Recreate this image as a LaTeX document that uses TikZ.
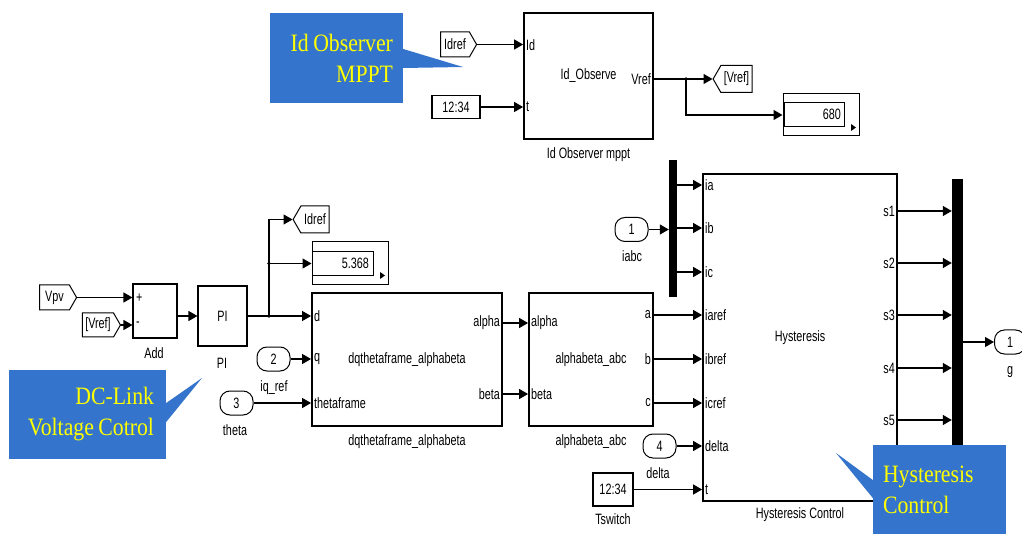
\documentclass[tikz,border=0pt]{standalone}
\usepackage{fontspec}
\usetikzlibrary{shapes.symbols,arrows.meta,calc}
\newfontfamily\simfont[FakeStretch=0.72]{Liberation Sans}
\newfontfamily\calfont[FakeStretch=0.87]{Liberation Serif}
\newcommand\mycalsel{\calfont\fontsize{25}{31}\selectfont}
\newcommand\csp{\hspace{4.5pt}}
\definecolor{calblue}{RGB}{52,116,204}
\definecolor{calyellow}{RGB}{255,255,0}
\begin{document}
\begin{tikzpicture}[x=1pt,y=-1pt,
  every node/.style={font=\simfont\fontsize{15}{17}\selectfont},
  lbl/.style={inner sep=1pt},
  sub/.style={draw, line width=1.8pt, rectangle, inner sep=0pt},
  blk/.style={draw, line width=1.1pt, rectangle, inner sep=0pt},
  wire/.style={line width=1.2pt},
  arr/.style={wire, -{Triangle[length=9pt,width=10pt]}},
  fromR/.style={draw, line width=1pt, shape=signal, signal to=east, signal pointer angle=120, inner sep=1pt},
  gotoL/.style={draw, line width=1pt, shape=signal, signal to=west, signal pointer angle=120, inner sep=1pt},
  port/.style={draw, line width=1pt, rectangle, rounded corners=10pt, minimum width=33, minimum height=24, inner sep=0pt},
  bar/.style={fill=black, inner sep=0pt},
  disp/.style={draw, line width=1pt, rectangle, inner sep=0pt},
  dot/.style={fill=black, circle, inner sep=0pt, minimum size=3.8pt},
  cal/.style={fill=calblue, text=calyellow, font=\mycalsel, inner xsep=10pt, inner ysep=0pt}
]
\useasboundingbox (0,0) rectangle (1022,534);
\clip (0,0) rectangle (1022,534);
\fill[white] (0,0) rectangle (1022,534);

% ---------------- top: Id observer ----------------
\node[sub, minimum width=129, minimum height=126] (idobs) at (588.5,76) {Id\_Observe};
\node[lbl] (idobsl) at (588.5,155) {Id Observer mppt};
\node[lbl, anchor=west] at (525,45) {Id};
\node[lbl, anchor=west] at (525,107) {t};
\node[lbl, anchor=east] at (652,79) {Vref};

\node[fromR, minimum width=36, minimum height=25] (fIdref) at (455,44.5) {Idref};
\node[blk, minimum width=48, minimum height=23] (clk1) at (456,107) {12:34};
\draw[arr] (fIdref.east) -- (fIdref.east -| idobs.west);
\draw[arr] (clk1.east) -- (clk1.east -| idobs.west);

\node[gotoL, minimum width=39, minimum height=27] (gVref) at (736.5,79) {[Vref]};
\node[disp, minimum width=76, minimum height=42] (disp1) at (821,115) {};
\draw[line width=0.9pt] (784,102) rectangle (844,126);
\node[lbl, anchor=east] (disp1v) at (842,114) {680};
\fill (851,124) -- (856,127.5) -- (851,131) -- cycle;
\coordinate (br1) at (686,79);
\draw[arr] (idobs.east |- gVref.west) -- (gVref.west);
\draw[arr] (br1) |- (disp1.west);
\node[dot] at (br1) {};

% ---------------- left: DC link ----------------
\node[fromR, minimum width=37, minimum height=25] (fVpv) at (54.5,297.5) {Vpv};
\node[fromR, minimum width=38, minimum height=24] (fVref) at (98,325) {[Vref]};
\node[blk, minimum width=44, minimum height=54] (add) at (155,311) {};
\node[lbl, anchor=west] at (135,298) {+};
\node[lbl, anchor=west] at (135,324) {-};
\node[lbl] (addl) at (154,353) {Add};
\draw[arr] (fVpv.east) -- (fVpv.east -| add.west);
\draw[arr] (fVref.east) -- (fVref.east -| add.west);

\node[blk, minimum width=49, minimum height=60] (pi) at (222.5,316) {PI};
\node[lbl] (pil) at (222,363) {PI};
\draw[arr] (add.east |- pi.west) -- (pi.west);

\node[gotoL, minimum width=36, minimum height=27] (gIdref) at (315,219.5) {Idref};
\node[disp, minimum width=76, minimum height=43] (disp2) at (350,263.5) {};
\draw[line width=0.9pt] (312,251) rectangle (373,275);
\node[lbl, anchor=east] (disp2v) at (370,263) {5.368};
\fill (380,272) -- (385,275.5) -- (380,279) -- cycle;

\node[sub, minimum width=190, minimum height=133] (dq) at (407,359.5) {dqthetaframe\_alphabeta};
\node[lbl] (dql) at (407,442) {dqthetaframe\_alphabeta};
\node[lbl, anchor=west] at (313,316) {d};
\node[lbl, anchor=west] at (313,359) {q};
\node[lbl, anchor=west] at (313,403) {thetaframe};
\node[lbl, anchor=east] at (501,323) {alpha};
\node[lbl, anchor=east] at (501,394) {beta};

\coordinate (br2) at (269,316);
\coordinate (br3) at (269,263.5);
\draw[arr] (pi.east) -- (pi.east -| dq.west);
\draw[arr] (br2) |- (gIdref.west);
\draw[arr] (br3) -- (disp2.west);
\node[dot] at (br2) {};
\node[dot] at (br3) {};

\node[port] (in2) at (273.5,359) {2};
\node[lbl] (in2l) at (274,388) {iq\_ref};
\node[port] (in3) at (236.5,403) {3};
\node[lbl] (in3l) at (235,430) {theta};
\draw[arr] (in2.east) -- (in2.east -| dq.west);
\draw[arr] (in3.east) -- (in3.east -| dq.west);

% ---------------- alphabeta_abc ----------------
\node[sub, minimum width=124, minimum height=133] (ab) at (591,359.5) {alphabeta\_abc};
\node[lbl] (abl) at (591,442) {alphabeta\_abc};
\node[lbl, anchor=west] at (530,323) {alpha};
\node[lbl, anchor=west] at (530,394) {beta};
\node[lbl, anchor=east] at (652,315) {a};
\node[lbl, anchor=east] at (652,359) {b};
\node[lbl, anchor=east] at (652,403) {c};
\draw[arr] (dq.east |- 0,323) -- (ab.west |- 0,323);
\draw[arr] (dq.east |- 0,394) -- (ab.west |- 0,394);

% ---------------- Hysteresis ----------------
\node[sub, minimum width=194, minimum height=327] (hyst) at (800,337.5) {Hysteresis};
\node[lbl] (hystl) at (800,515) {Hysteresis Control};
\node[bar, minimum width=8, minimum height=137] (mux) at (673,228.5) {};
\node[port] (in1) at (631.5,229.5) {1};
\node[lbl] (in1l) at (632,256) {iabc};
\draw[arr] (in1.east) -- (in1.east -| mux.west);
\foreach \yy/\tx in {185/ia,228/ib,272/ic}{
  \draw[arr] (mux.east |- 0,\yy) -- (hyst.west |- 0,\yy);
  \node[lbl, anchor=west] at (704,\yy) {\tx};
}
\foreach \yy/\tx in {315/iaref,359/ibref,403/icref}{
  \draw[arr] (ab.east |- 0,\yy) -- (hyst.west |- 0,\yy);
  \node[lbl, anchor=west] at (704,\yy) {\tx};
}
\node[port] (in4) at (659.5,446) {4};
\node[lbl] (in4l) at (658,473) {delta};
\draw[arr] (in4.east) -- (in4.east -| hyst.west);
\node[lbl, anchor=west] at (704,446) {delta};
\node[blk, minimum width=40, minimum height=33] (clk2) at (613,489.5) {12:34};
\node[lbl] (clk2l) at (613,519) {Tswitch};
\draw[arr] (clk2.east) -- (clk2.east -| hyst.west);
\node[lbl, anchor=west] at (704,489.5) {t};

\node[bar, minimum width=11, minimum height=271] (demux) at (957.5,314.5) {};
\foreach \yy/\tx in {211/s1,263/s2,315/s3,368/s4,420/s5}{
  \draw[arr] (hyst.east |- 0,\yy) -- (demux.west |- 0,\yy);
  \node[lbl, anchor=east] at (896,\yy) {\tx};
}
\node[port, minimum width=31] (out1) at (1010,342) {1};
\node[lbl] (out1l) at (1010,372) {g};
\draw[arr] (demux.east |- out1.west) -- (out1.west);

% ---------------- callouts ----------------
\node[cal, minimum width=133, minimum height=90, text width=113, align=right] (cal1) at (336.5,58) {Id\csp Observer\\MPPT};
\coordinate (cal1tip) at (463,67);
\fill[calblue] (cal1.east |- 0,49) -- (cal1tip) -- (cal1.east |- 0,68) -- cycle;

\node[cal, minimum width=157, minimum height=89, text width=133, align=right, inner xsep=12pt] (cal2) at (87.5,414.5) {DC-Link\\Voltage\csp Cotrol};
\coordinate (cal2tip) at (202,378);
\fill[calblue] (cal2.east |- 0,403) -- (cal2tip) -- (cal2.east |- 0,422) -- cycle;

\node[cal, minimum width=133, minimum height=89, text width=113, align=left] (cal3) at (939.5,489.5) {Hysteresis\\Control};
\coordinate (cal3tip) at (836,453);
\fill[calblue] (cal3.west |- 0,480) -- (cal3tip) -- (cal3.west |- 0,498) -- cycle;
\end{tikzpicture}
\end{document}
